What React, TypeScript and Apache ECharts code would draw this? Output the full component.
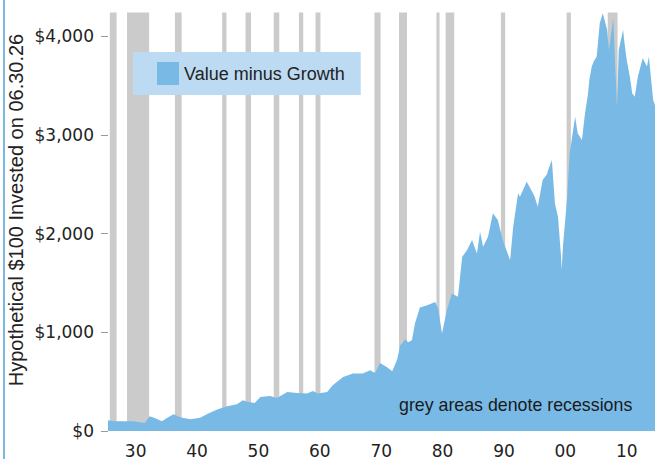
import React, { useEffect, useRef } from "react";
import * as echarts from "echarts";

// Cumulative value of $100 invested on 06.30.26 (Value minus Growth)
const years = [
  1926.5, 1927.5, 1928.5, 1929.6, 1930.5, 1931.5, 1932.5, 1933.3, 1934.2, 1935.3,
  1936.3, 1937.2, 1938.2, 1939.9, 1941.5, 1943.1, 1944.4, 1945.9, 1947.5, 1948.5,
  1949.3, 1950.4, 1951.3, 1952.9, 1954.0, 1955.7, 1957.3, 1958.9, 1959.9, 1960.7,
  1962.2, 1963.1, 1964.8, 1966.4, 1968.0, 1969.2, 1970.0, 1970.8, 1971.9, 1972.8,
  1973.6, 1974.1, 1974.4, 1974.9, 1975.4, 1976.0, 1976.5, 1977.3, 1978.5, 1979.8,
  1980.3, 1980.9, 1981.7, 1982.5, 1983.5, 1984.2, 1985.0, 1985.8, 1986.6, 1987.1,
  1987.6, 1988.4, 1989.2, 1990.0, 1990.8, 1991.6, 1992.0, 1992.5, 1993.3, 1993.6,
  1994.7, 1995.6, 1996.0, 1996.5, 1997.3, 1998.0, 1998.2, 1998.8, 1999.3, 1999.8,
  2000.3, 2000.4, 2000.6, 2001.3, 2001.7, 2002.6, 2003.0, 2003.7, 2004.2, 2004.7,
  2004.9, 2005.3, 2005.6, 2006.1, 2006.6, 2007.1, 2007.8, 2008.1, 2008.8, 2009.4,
  2009.7, 2010.4, 2010.7, 2011.0, 2011.5, 2011.9, 2012.3, 2012.8, 2013.6, 2014.3,
  2014.6, 2015.3, 2015.6,
];
const values = [
  108, 100, 100, 100, 98, 92, 80, 150, 130, 98,
  140, 170, 140, 120, 135, 185, 220, 250, 271, 311,
  294, 284, 345, 355, 335, 396, 385, 379, 406, 379,
  396, 463, 548, 582, 582, 615, 588, 690, 649, 605,
  725, 869, 886, 930, 900, 920, 1089, 1250, 1275, 1308,
  1241, 988, 1224, 1393, 1359, 1765, 1833, 1934, 1799, 2018,
  1866, 1968, 2205, 2137, 1934, 1799, 1731, 2069, 2408, 2373,
  2525, 2424, 2373, 2272, 2543, 2600, 2644, 2745, 2306, 2170,
  1765, 1630, 1866, 2373, 2813, 3185, 3016, 2948, 3219, 3422,
  3557, 3692, 3740, 3793, 4132, 4233, 4064, 3861, 4182, 3286,
  3861, 4064, 3895, 3760, 3590, 3420, 3387, 3590, 3776, 3692,
  3793, 3354, 3300,
];

// NBER recessions (decimal years)
const recessionStarts = [1926.8, 1929.6, 1937.4, 1945.1, 1948.9, 1953.5, 1957.6, 1960.3, 1969.9, 1973.9, 1980.0, 1981.5, 1990.5, 2001.2, 2007.9];
const recessionEnds = [1927.9, 1933.2, 1938.5, 1945.8, 1949.8, 1954.4, 1958.3, 1961.1, 1970.9, 1975.2, 1980.5, 1982.9, 1991.2, 2001.9, 2009.5];

const decadeLabelYears = [1931, 1941, 1951, 1961, 1971, 1981, 1991, 2001, 2011];
const decadeLabels = ["30", "40", "50", "60", "70", "80", "90", "00", "10"];

const seriesName = "Value minus Growth";
const yAxisTitle = "Hypothetical $100 Invested on 06.30.26";
const noteText = "grey areas denote recessions";

const X_MIN = 1926.5;
const X_MAX = 2015.6;
const Y_MAX = 4240;

export default function App() {
  const ref = useRef<HTMLDivElement>(null);
  useEffect(() => {
    if (!ref.current) return;
    const chart = echarts.init(ref.current, undefined, { renderer: "svg" });
    const areaData = years.map((y, i) => [y, values[i]]);
    const recData = recessionStarts.map((s, i) => [s, recessionEnds[i]]);
    const textColor = "#222";
    chart.setOption({
      animation: false,
      backgroundColor: "#fff",
      grid: { left: 108, right: 0, top: 12.5, bottom: 28, containLabel: false },
      legend: {
        show: true,
        left: 133,
        top: 52,
        orient: "horizontal",
        backgroundColor: "#bcdbf2",
        padding: [10, 16, 10, 24],
        itemWidth: 22,
        itemHeight: 23,
        icon: "rect",
        data: [{ name: seriesName, icon: "rect" }],
        textStyle: { fontFamily: "Liberation Sans", fontSize: 18, color: textColor },
      },
      xAxis: {
        type: "value",
        min: X_MIN,
        max: X_MAX,
        axisLine: { show: false },
        axisTick: { show: false },
        splitLine: { show: false },
        axisLabel: {
          customValues: decadeLabelYears,
          formatter: (v: number) => {
            const i = decadeLabelYears.indexOf(Math.round(v));
            return i >= 0 ? decadeLabels[i] : "";
          },
          fontFamily: "DejaVu Sans",
          fontSize: 17,
          color: textColor,
          margin: 11,
        },
      },
      yAxis: {
        type: "value",
        min: 0,
        max: Y_MAX,
        interval: 1000,
        axisLine: { show: false },
        axisTick: { show: true, length: 7, lineStyle: { color: "#999", width: 1 } },
        splitLine: { show: false },
        axisLabel: {
          showMaxLabel: false,
          formatter: (v: number) => (v > 4000 ? "" : "$" + v.toLocaleString("en-US")),
          fontFamily: "DejaVu Sans",
          fontSize: 17,
          color: textColor,
          margin: 14,
        },
      },
      series: [
        {
          type: "custom",
          name: "recessions",
          silent: true,
          z: 1,
          data: recData,
          renderItem: (params: any, api: any) => {
            const p0 = api.coord([api.value(0), Y_MAX]);
            const p1 = api.coord([api.value(1), 0]);
            return {
              type: "rect",
              shape: { x: p0[0], y: p0[1], width: p1[0] - p0[0], height: p1[1] - p0[1] },
              style: { fill: "#cbcbcb" },
            };
          },
        },
        {
          type: "line",
          name: seriesName,
          z: 2,
          data: areaData,
          showSymbol: false,
          symbol: "none",
          color: "#78b9e5",
          lineStyle: { width: 0 },
          areaStyle: { color: "#78b9e5", opacity: 1 },
        },
      ],
      graphic: [
        {
          type: "rect",
          left: 3,
          top: 0,
          shape: { width: 2, height: 459 },
          style: { fill: "#7ab8e0" },
          z: 100,
        },
        {
          type: "text",
          x: 16,
          y: 210,
          rotation: Math.PI / 2,
          style: {
            text: yAxisTitle,
            fontFamily: "Liberation Sans",
            fontSize: 20,
            fill: textColor,
            align: "center",
            verticalAlign: "middle",
          },
          z: 100,
        },
        {
          type: "text",
          x: 399,
          y: 405,
          style: {
            text: noteText,
            fontFamily: "Liberation Sans",
            fontSize: 17.8,
            fill: "#1a1a1a",
            align: "left",
            verticalAlign: "middle",
          },
          z: 100,
        },
      ],
    });
    return () => chart.dispose();
  }, []);
  return (
    <div
      ref={ref}
      style={{ position: "fixed", left: 0, top: 0, width: 655, height: 459 }}
    />
  );
}
